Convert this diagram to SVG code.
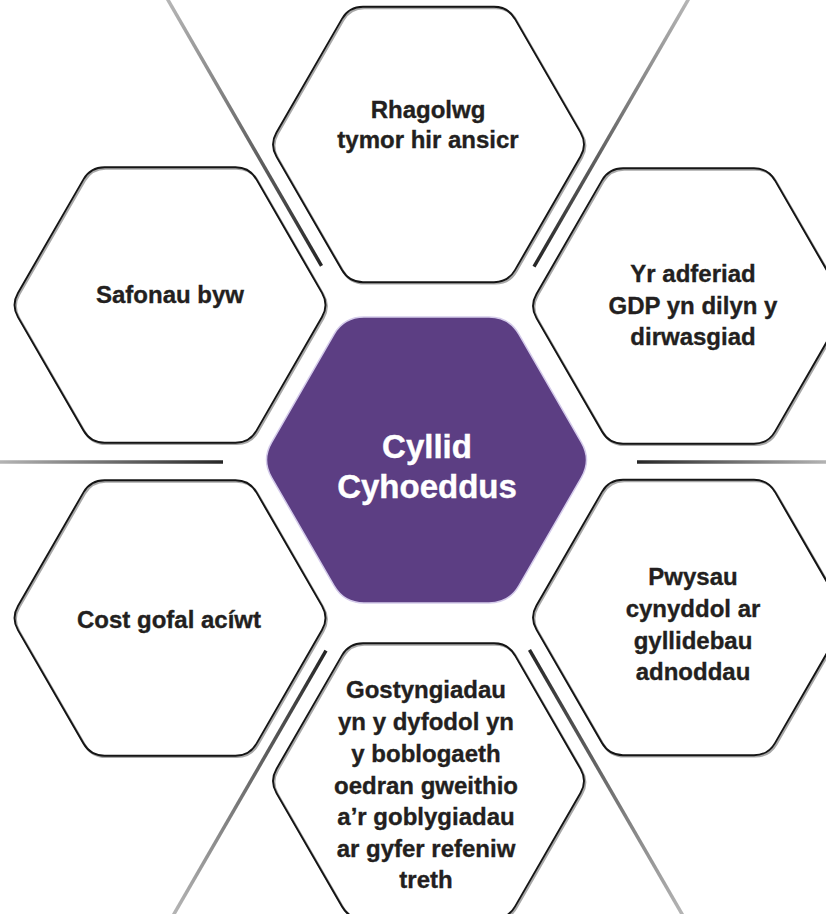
<svg xmlns="http://www.w3.org/2000/svg" xmlns:xlink="http://www.w3.org/1999/xlink" width="826" height="914" viewBox="0 0 826 914">
<style>
.hexline{fill:none;stroke:#151515;stroke-width:1.9}
.hexshadow{fill:none;stroke:#a8a8a8;stroke-width:2.2}
.center{fill:#5c3e83;stroke:#d4cbea;stroke-width:1.5}
.lbl{font-family:"Liberation Sans",Arial,sans-serif;font-weight:bold;font-size:24px;fill:#231f20;stroke:#231f20;stroke-width:0.35;text-anchor:middle}
.clbl{font-family:"Liberation Sans",Arial,sans-serif;font-weight:bold;font-size:33px;fill:#ffffff;stroke:#ffffff;stroke-width:0.4;text-anchor:middle}
.sep{fill:url(#lineGrad)}
</style>
<defs>
<linearGradient id="lineGrad" x1="0" y1="0" x2="1" y2="0">
<stop offset="0" stop-color="#b8b8b8"/>
<stop offset="1" stop-color="#262626"/>
</linearGradient>
<path id="hexOuter" d="M86.5,-125.6 L152,-12.1 Q159,0 152,12.1 L86.5,125.6 Q79.5,137.7 65.5,137.7 L-65.5,137.7 Q-79.5,137.7 -86.5,125.6 L-152,12.1 Q-159,0 -152,-12.1 L-86.5,-125.6 Q-79.5,-137.7 -65.5,-137.7 L65.5,-137.7 Q79.5,-137.7 86.5,-125.6 Z"/>
</defs>
<rect x="0" y="0" width="826" height="914" fill="#ffffff"/>
<g id="connectors">
<rect class="sep" x="-6" y="-1.75" width="313" height="3.5" transform="translate(168,0) rotate(60)"/>
<rect class="sep" x="-6" y="-1.75" width="314" height="3.5" transform="translate(688,0) rotate(120)"/>
<rect class="sep" x="-6" y="-1.75" width="229" height="3.5" transform="translate(0,462)"/>
<rect class="sep" x="-6" y="-1.75" width="195" height="3.5" transform="translate(826,462) rotate(180)"/>
<rect class="sep" x="-8" y="-1.75" width="312" height="3.5" transform="translate(174,914) rotate(-60)"/>
<rect class="sep" x="-8" y="-1.75" width="313" height="3.5" transform="translate(682,914) rotate(-120)"/>
</g>
<g id="node-center">
<path class="center" transform="translate(426.5,460)" d="M92.5,-125.7 L155,-17.3 Q165,0 155,17.3 L92.5,125.7 Q82.5,143 62.5,143 L-62.5,143 Q-82.5,143 -92.5,125.7 L-155,17.3 Q-165,0 -155,-17.3 L-92.5,-125.7 Q-82.5,-143 -62.5,-143 L62.5,-143 Q82.5,-143 92.5,-125.7 Z"/>
<text class="clbl" x="427" y="458">Cyllid</text>
<text class="clbl" x="427" y="498">Cyhoeddus</text>
</g>
<g id="node-top">
<use href="#hexOuter" class="hexshadow" transform="translate(429.8,145.8)"/>
<use href="#hexOuter" class="hexline" transform="translate(428.5,144.5)"/>
<text class="lbl" x="428" y="118">Rhagolwg</text>
<text class="lbl" x="428" y="148">tymor hir ansicr</text>
</g>
<g id="node-upper-left">
<use href="#hexOuter" class="hexshadow" transform="translate(171.3,306.3)"/>
<use href="#hexOuter" class="hexline" transform="translate(170,305)"/>
<text class="lbl" x="170" y="303">Safonau byw</text>
</g>
<g id="node-upper-right">
<use href="#hexOuter" class="hexshadow" transform="translate(689.8,307.3)"/>
<use href="#hexOuter" class="hexline" transform="translate(688.5,306)"/>
<text class="lbl" x="693" y="282">Yr adferiad</text>
<text class="lbl" x="693" y="313.5">GDP yn dilyn y</text>
<text class="lbl" x="693" y="345">dirwasgiad</text>
</g>
<g id="node-lower-left">
<use href="#hexOuter" class="hexshadow" transform="translate(171.3,619.3)"/>
<use href="#hexOuter" class="hexline" transform="translate(170,618)"/>
<text class="lbl" x="169" y="628">Cost gofal acíwt</text>
</g>
<g id="node-lower-right">
<use href="#hexOuter" class="hexshadow" transform="translate(689.8,618.8)"/>
<use href="#hexOuter" class="hexline" transform="translate(688.5,617.5)"/>
<text class="lbl" x="693" y="585">Pwysau</text>
<text class="lbl" x="693" y="617">cynyddol ar</text>
<text class="lbl" x="693" y="648.5">gyllidebau</text>
<text class="lbl" x="693" y="680">adnoddau</text>
</g>
<g id="node-bottom">
<use href="#hexOuter" class="hexshadow" transform="translate(429.8,782.3)"/>
<use href="#hexOuter" class="hexline" transform="translate(428.5,781)"/>
<text class="lbl" x="426" y="698">Gostyngiadau</text>
<text class="lbl" x="426" y="730">yn y dyfodol yn</text>
<text class="lbl" x="426" y="762">y boblogaeth</text>
<text class="lbl" x="426" y="793.5">oedran gweithio</text>
<text class="lbl" x="426" y="825">a’r goblygiadau</text>
<text class="lbl" x="426" y="857">ar gyfer refeniw</text>
<text class="lbl" x="426" y="888">treth</text>
</g>
</svg>
